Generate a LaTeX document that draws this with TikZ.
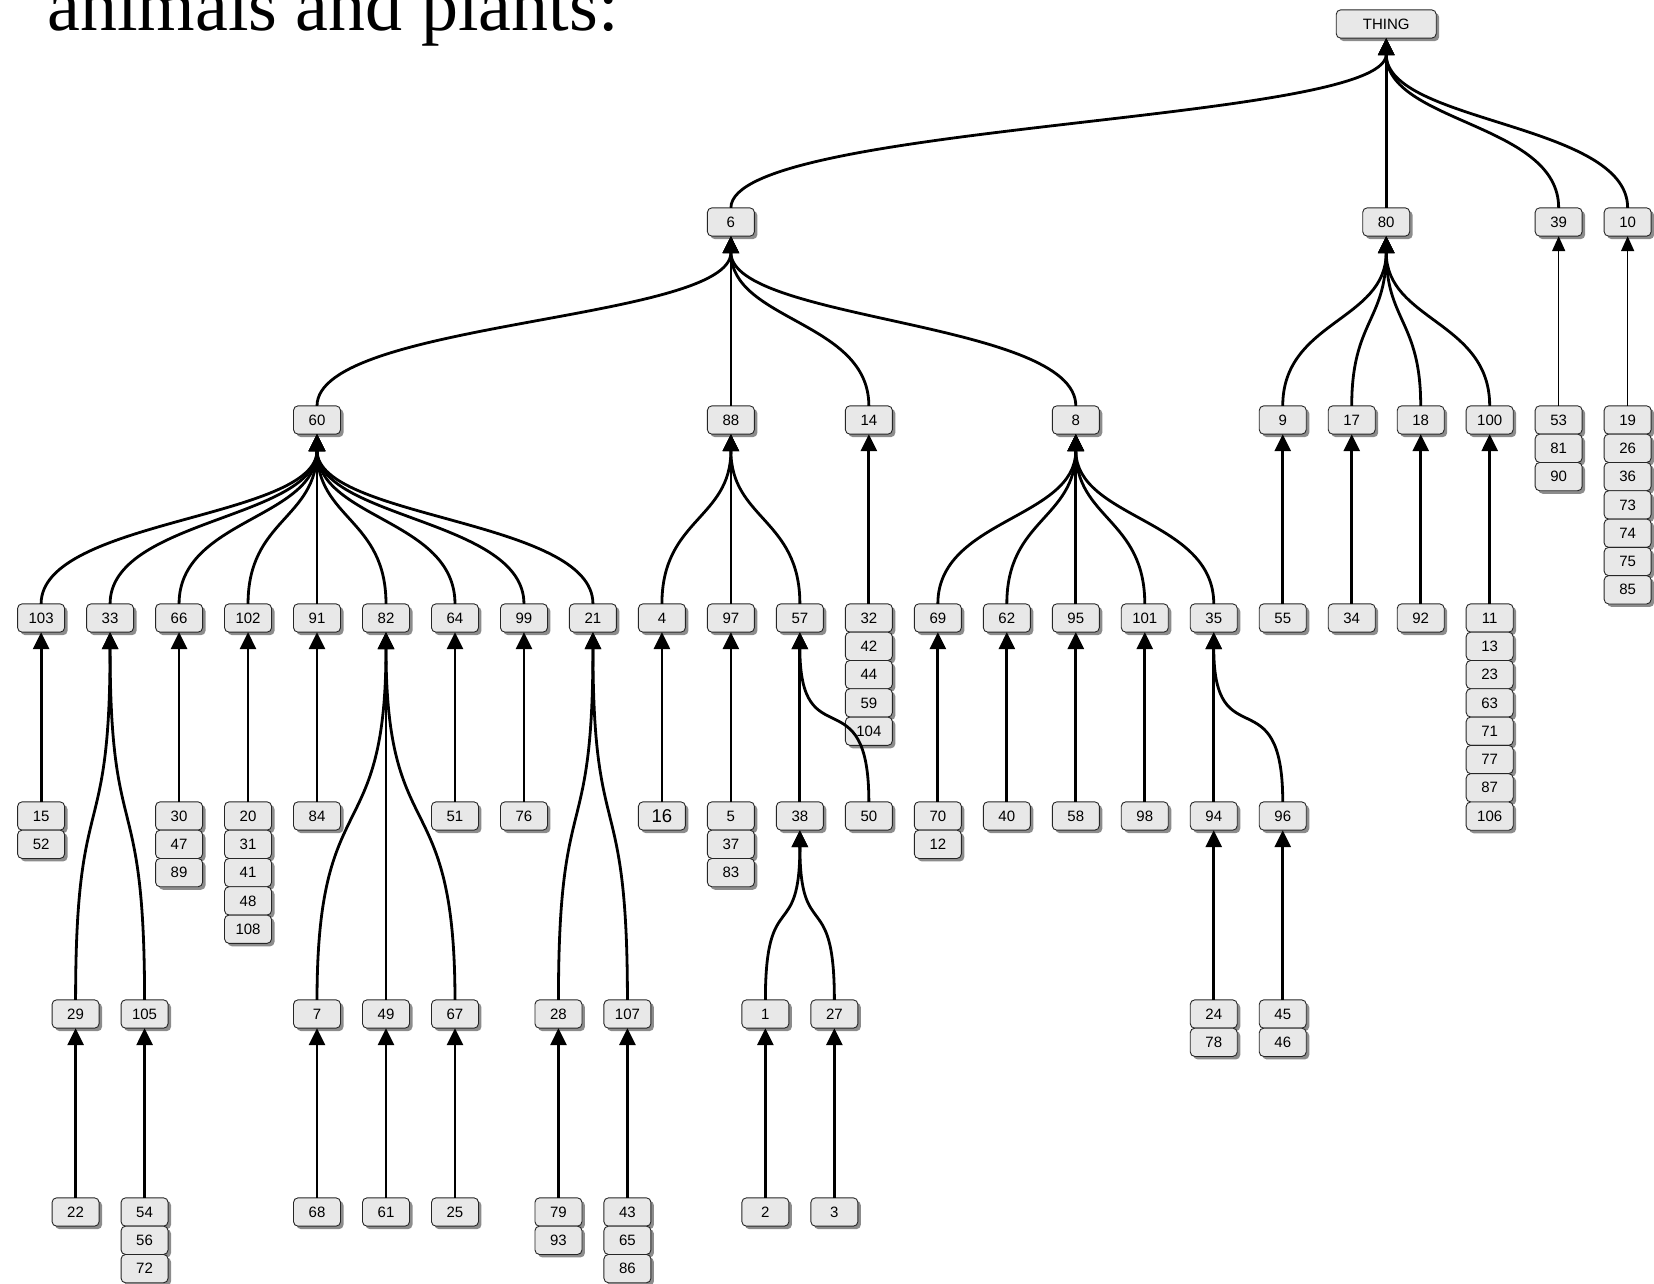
\documentclass[tikz,border=0pt]{standalone}
\usepackage{fontspec}
\newfontfamily\boxfont{Liberation Sans}
\newfontfamily\titlefont{Liberation Serif}
\usetikzlibrary{arrows.meta,shadows}

% column / row positions of the tree layout
\newcommand\cx[1]{41.1+68.98*#1}
\newcommand\ry[1]{-24-198*#1}
\newcommand\rs[2]{-24-198*#1-28.3*#2}

\tikzset{
  box/.style={draw=black!85, line width=0.9pt, rounded corners=4.5pt,
    fill=black!9, minimum width=47pt, minimum height=28.3pt,
    inner sep=0pt, outer sep=0pt,
    font=\boxfont\fontsize{15}{15}\selectfont,
    drop shadow={shadow xshift=3pt, shadow yshift=-3pt, fill=black!45, opacity=1}},
  e/.style={line width=2.8pt, -{Triangle[width=16pt,length=17pt]}},
  ethin/.style={line width=1.6pt, -{Triangle[width=13pt,length=15pt]}},
  sc/.style={out=90, in=-90, out distance=#1, in distance=#1},
}

\begin{document}
\begin{tikzpicture}[x=1pt, y=1pt]
\useasboundingbox (0,0) rectangle (1654,-1283);

\node[anchor=base west, inner sep=0pt, font=\titlefont\fontsize{74}{74}\selectfont] (title) at (47,-30) {animals and plants:};

% level 0
\node[box, minimum width=100pt] (thing) at ({\cx{19.5}},{\ry{0}}) {THING};

% level 1
\node[box] (n6)  at ({\cx{10}},{\ry{1}}) {6};
\node[box] (n80) at ({\cx{19.5}},{\ry{1}}) {80};
\node[box] (n39) at ({\cx{22}},{\ry{1}}) {39};
\node[box] (n10) at ({\cx{23}},{\ry{1}}) {10};

% level 2
\node[box] (n60)  at ({\cx{4}},{\ry{2}}) {60};
\node[box] (n88)  at ({\cx{10}},{\ry{2}}) {88};
\node[box] (n14)  at ({\cx{12}},{\ry{2}}) {14};
\node[box] (n8)   at ({\cx{15}},{\ry{2}}) {8};
\node[box] (n9)   at ({\cx{18}},{\ry{2}}) {9};
\node[box] (n17)  at ({\cx{19}},{\ry{2}}) {17};
\node[box] (n18)  at ({\cx{20}},{\ry{2}}) {18};
\node[box] (n100) at ({\cx{21}},{\ry{2}}) {100};
\node[box] (n53)  at ({\cx{22}},{\rs{2}{0}}) {53};
\node[box] (n81)  at ({\cx{22}},{\rs{2}{1}}) {81};
\node[box] (n90)  at ({\cx{22}},{\rs{2}{2}}) {90};
\node[box] (n19)  at ({\cx{23}},{\rs{2}{0}}) {19};
\node[box] (n26)  at ({\cx{23}},{\rs{2}{1}}) {26};
\node[box] (n36)  at ({\cx{23}},{\rs{2}{2}}) {36};
\node[box] (n73)  at ({\cx{23}},{\rs{2}{3}}) {73};
\node[box] (n74)  at ({\cx{23}},{\rs{2}{4}}) {74};
\node[box] (n75)  at ({\cx{23}},{\rs{2}{5}}) {75};
\node[box] (n85)  at ({\cx{23}},{\rs{2}{6}}) {85};

% level 3
\node[box] (n103) at ({\cx{0}},{\ry{3}}) {103};
\node[box] (n33)  at ({\cx{1}},{\ry{3}}) {33};
\node[box] (n66)  at ({\cx{2}},{\ry{3}}) {66};
\node[box] (n102) at ({\cx{3}},{\ry{3}}) {102};
\node[box] (n91)  at ({\cx{4}},{\ry{3}}) {91};
\node[box] (n82)  at ({\cx{5}},{\ry{3}}) {82};
\node[box] (n64)  at ({\cx{6}},{\ry{3}}) {64};
\node[box] (n99)  at ({\cx{7}},{\ry{3}}) {99};
\node[box] (n21)  at ({\cx{8}},{\ry{3}}) {21};
\node[box] (n4)   at ({\cx{9}},{\ry{3}}) {4};
\node[box] (n97)  at ({\cx{10}},{\ry{3}}) {97};
\node[box] (n57)  at ({\cx{11}},{\ry{3}}) {57};
\node[box] (n32)  at ({\cx{12}},{\rs{3}{0}}) {32};
\node[box] (n42)  at ({\cx{12}},{\rs{3}{1}}) {42};
\node[box] (n44)  at ({\cx{12}},{\rs{3}{2}}) {44};
\node[box] (n59)  at ({\cx{12}},{\rs{3}{3}}) {59};
\node[box] (n104) at ({\cx{12}},{\rs{3}{4}}) {104};
\node[box] (n69)  at ({\cx{13}},{\ry{3}}) {69};
\node[box] (n62)  at ({\cx{14}},{\ry{3}}) {62};
\node[box] (n95)  at ({\cx{15}},{\ry{3}}) {95};
\node[box] (n101) at ({\cx{16}},{\ry{3}}) {101};
\node[box] (n35)  at ({\cx{17}},{\ry{3}}) {35};
\node[box] (n55)  at ({\cx{18}},{\ry{3}}) {55};
\node[box] (n34)  at ({\cx{19}},{\ry{3}}) {34};
\node[box] (n92)  at ({\cx{20}},{\ry{3}}) {92};
\node[box] (n11)  at ({\cx{21}},{\rs{3}{0}}) {11};
\node[box] (n13)  at ({\cx{21}},{\rs{3}{1}}) {13};
\node[box] (n23)  at ({\cx{21}},{\rs{3}{2}}) {23};
\node[box] (n63)  at ({\cx{21}},{\rs{3}{3}}) {63};
\node[box] (n71)  at ({\cx{21}},{\rs{3}{4}}) {71};
\node[box] (n77)  at ({\cx{21}},{\rs{3}{5}}) {77};
\node[box] (n87)  at ({\cx{21}},{\rs{3}{6}}) {87};
\node[box] (n106) at ({\cx{21}},{\rs{3}{7}}) {106};

% level 4
\node[box] (n15)  at ({\cx{0}},{\rs{4}{0}}) {15};
\node[box] (n52)  at ({\cx{0}},{\rs{4}{1}}) {52};
\node[box] (n30)  at ({\cx{2}},{\rs{4}{0}}) {30};
\node[box] (n47)  at ({\cx{2}},{\rs{4}{1}}) {47};
\node[box] (n89)  at ({\cx{2}},{\rs{4}{2}}) {89};
\node[box] (n20)  at ({\cx{3}},{\rs{4}{0}}) {20};
\node[box] (n31)  at ({\cx{3}},{\rs{4}{1}}) {31};
\node[box] (n41)  at ({\cx{3}},{\rs{4}{2}}) {41};
\node[box] (n48)  at ({\cx{3}},{\rs{4}{3}}) {48};
\node[box] (n108) at ({\cx{3}},{\rs{4}{4}}) {108};
\node[box] (n84)  at ({\cx{4}},{\ry{4}}) {84};
\node[box] (n51)  at ({\cx{6}},{\ry{4}}) {51};
\node[box] (n76)  at ({\cx{7}},{\ry{4}}) {76};
\node[box, font=\boxfont\fontsize{18.5}{18.5}\selectfont] (n16) at ({\cx{9}},{\ry{4}}) {16};
\node[box] (n5)   at ({\cx{10}},{\rs{4}{0}}) {5};
\node[box] (n37)  at ({\cx{10}},{\rs{4}{1}}) {37};
\node[box] (n83)  at ({\cx{10}},{\rs{4}{2}}) {83};
\node[box] (n38)  at ({\cx{11}},{\ry{4}}) {38};
\node[box] (n50)  at ({\cx{12}},{\ry{4}}) {50};
\node[box] (n70)  at ({\cx{13}},{\rs{4}{0}}) {70};
\node[box] (n12)  at ({\cx{13}},{\rs{4}{1}}) {12};
\node[box] (n40)  at ({\cx{14}},{\ry{4}}) {40};
\node[box] (n58)  at ({\cx{15}},{\ry{4}}) {58};
\node[box] (n98)  at ({\cx{16}},{\ry{4}}) {98};
\node[box] (n94)  at ({\cx{17}},{\ry{4}}) {94};
\node[box] (n96)  at ({\cx{18}},{\ry{4}}) {96};

% level 5
\node[box] (n29)  at ({\cx{0.5}},{\ry{5}}) {29};
\node[box] (n105) at ({\cx{1.5}},{\ry{5}}) {105};
\node[box] (n7)   at ({\cx{4}},{\ry{5}}) {7};
\node[box] (n49)  at ({\cx{5}},{\ry{5}}) {49};
\node[box] (n67)  at ({\cx{6}},{\ry{5}}) {67};
\node[box] (n28)  at ({\cx{7.5}},{\ry{5}}) {28};
\node[box] (n107) at ({\cx{8.5}},{\ry{5}}) {107};
\node[box] (n1)   at ({\cx{10.5}},{\ry{5}}) {1};
\node[box] (n27)  at ({\cx{11.5}},{\ry{5}}) {27};
\node[box] (n24)  at ({\cx{17}},{\rs{5}{0}}) {24};
\node[box] (n78)  at ({\cx{17}},{\rs{5}{1}}) {78};
\node[box] (n45)  at ({\cx{18}},{\rs{5}{0}}) {45};
\node[box] (n46)  at ({\cx{18}},{\rs{5}{1}}) {46};

% level 6
\node[box] (n22)  at ({\cx{0.5}},{\ry{6}}) {22};
\node[box] (n54)  at ({\cx{1.5}},{\rs{6}{0}}) {54};
\node[box] (n56)  at ({\cx{1.5}},{\rs{6}{1}}) {56};
\node[box] (n72)  at ({\cx{1.5}},{\rs{6}{2}}) {72};
\node[box] (n68)  at ({\cx{4}},{\ry{6}}) {68};
\node[box] (n61)  at ({\cx{5}},{\ry{6}}) {61};
\node[box] (n25)  at ({\cx{6}},{\ry{6}}) {25};
\node[box] (n79)  at ({\cx{7.5}},{\rs{6}{0}}) {79};
\node[box] (n93)  at ({\cx{7.5}},{\rs{6}{1}}) {93};
\node[box] (n43)  at ({\cx{8.5}},{\rs{6}{0}}) {43};
\node[box] (n65)  at ({\cx{8.5}},{\rs{6}{1}}) {65};
\node[box] (n86)  at ({\cx{8.5}},{\rs{6}{2}}) {86};
\node[box] (n2)   at ({\cx{10.5}},{\ry{6}}) {2};
\node[box] (n3)   at ({\cx{11.5}},{\ry{6}}) {3};

% connectors: child -> parent
\draw[e] (n6.north)  to[sc=85pt] (thing.south);
\draw[e] (n80.north) -- (thing.south);
\draw[e] (n39.north) to[sc=85pt] (thing.south);
\draw[e] (n10.north) to[sc=85pt] (thing.south);

\draw[e] (n60.north) to[sc=85pt] (n6.south);
\draw[e] (n88.north) -- (n6.south);
\draw[e] (n14.north) to[sc=85pt] (n6.south);
\draw[e] (n8.north)  to[sc=85pt] (n6.south);

\draw[e] (n9.north)   to[sc=85pt] (n80.south);
\draw[e] (n17.north)  to[sc=85pt] (n80.south);
\draw[e] (n18.north)  to[sc=85pt] (n80.south);
\draw[e] (n100.north) to[sc=85pt] (n80.south);

\draw[ethin] (n53.north) -- (n39.south);
\draw[ethin] (n19.north) -- (n10.south);

\draw[e] (n103.north) to[sc=85pt] (n60.south);
\draw[e] (n33.north)  to[sc=85pt] (n60.south);
\draw[e] (n66.north)  to[sc=85pt] (n60.south);
\draw[e] (n102.north) to[sc=85pt] (n60.south);
\draw[e] (n91.north)  -- (n60.south);
\draw[e] (n82.north)  to[sc=85pt] (n60.south);
\draw[e] (n64.north)  to[sc=85pt] (n60.south);
\draw[e] (n99.north)  to[sc=85pt] (n60.south);
\draw[e] (n21.north)  to[sc=85pt] (n60.south);

\draw[e] (n4.north)  to[sc=85pt] (n88.south);
\draw[e] (n97.north) -- (n88.south);
\draw[e] (n57.north) to[sc=85pt] (n88.south);

\draw[e] (n32.north) -- (n14.south);

\draw[e] (n69.north)  to[sc=85pt] (n8.south);
\draw[e] (n62.north)  to[sc=85pt] (n8.south);
\draw[e] (n95.north)  -- (n8.south);
\draw[e] (n101.north) to[sc=85pt] (n8.south);
\draw[e] (n35.north)  to[sc=85pt] (n8.south);

\draw[e] (n55.north) -- (n9.south);
\draw[e] (n34.north) -- (n17.south);
\draw[e] (n92.north) -- (n18.south);
\draw[e] (n11.north) -- (n100.south);

\draw[e] (n15.north)  -- (n103.south);
\draw[e] (n29.north)  to[sc=220pt] (n33.south);
\draw[e] (n105.north) to[sc=220pt] (n33.south);
\draw[e] (n30.north)  -- (n66.south);
\draw[e] (n20.north)  -- (n102.south);
\draw[e] (n84.north)  -- (n91.south);
\draw[e] (n7.north)   to[sc=220pt] (n82.south);
\draw[e] (n49.north)  -- (n82.south);
\draw[e] (n67.north)  to[sc=220pt] (n82.south);
\draw[e] (n51.north)  -- (n64.south);
\draw[e] (n76.north)  -- (n99.south);
\draw[e] (n28.north)  to[sc=220pt] (n21.south);
\draw[e] (n107.north) to[sc=220pt] (n21.south);

\draw[e] (n16.north) -- (n4.south);
\draw[e] (n5.north)  -- (n97.south);
\draw[e] (n38.north) -- (n57.south);
\draw[e] (n50.north) to[sc=128pt] (n57.south);

\draw[e] (n70.north) -- (n69.south);
\draw[e] (n40.north) -- (n62.south);
\draw[e] (n58.north) -- (n95.south);
\draw[e] (n98.north) -- (n101.south);
\draw[e] (n94.north) -- (n35.south);
\draw[e] (n96.north) to[sc=128pt] (n35.south);

\draw[e] (n1.north)  to[sc=115pt] (n38.south);
\draw[e] (n27.north) to[sc=115pt] (n38.south);

\draw[e] (n24.north) -- (n94.south);
\draw[e] (n45.north) -- (n96.south);

\draw[e] (n22.north) -- (n29.south);
\draw[e] (n54.north) -- (n105.south);
\draw[e] (n68.north) -- (n7.south);
\draw[e] (n61.north) -- (n49.south);
\draw[e] (n25.north) -- (n67.south);
\draw[e] (n79.north) -- (n28.south);
\draw[e] (n43.north) -- (n107.south);
\draw[e] (n2.north)  -- (n1.south);
\draw[e] (n3.north)  -- (n27.south);
\end{tikzpicture}
\end{document}
